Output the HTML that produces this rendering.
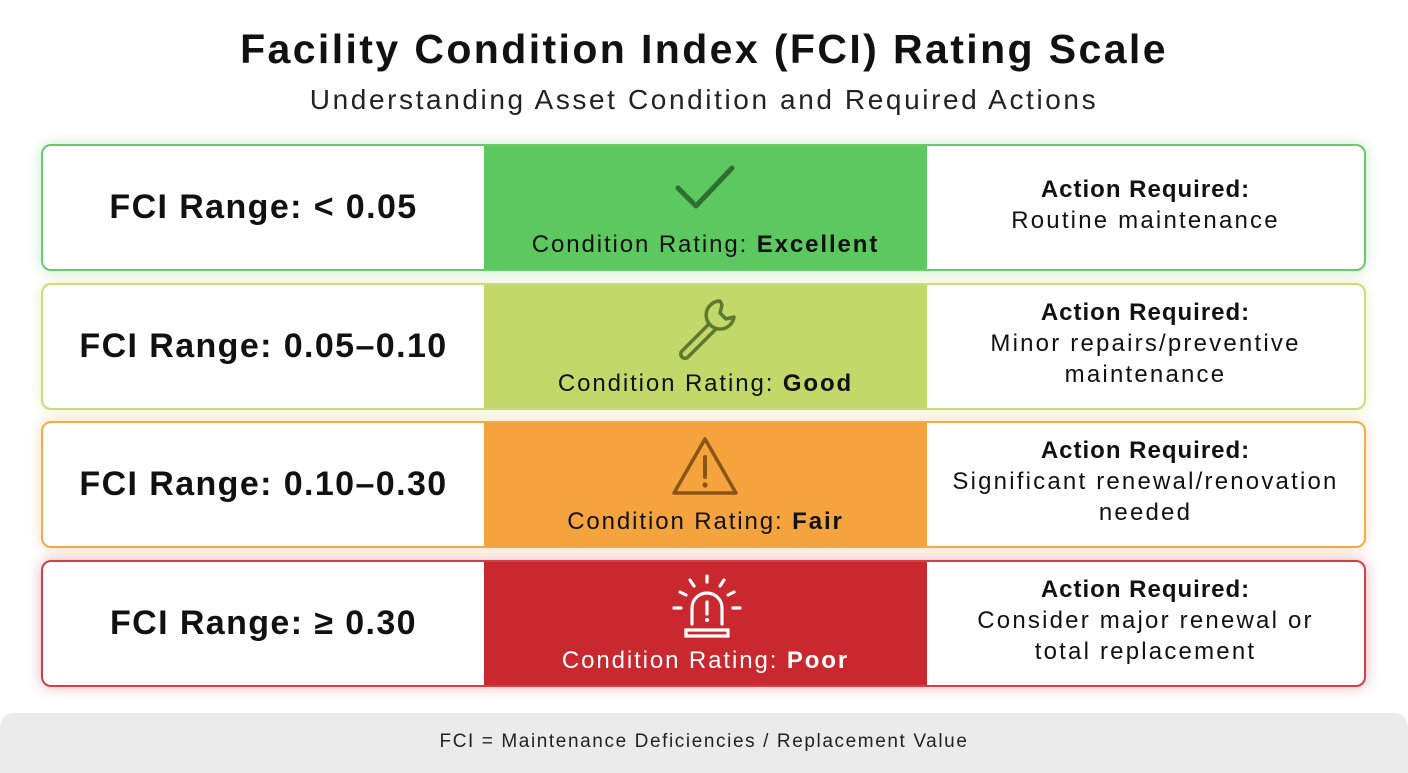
<!DOCTYPE html>
<html><head><meta charset="utf-8"><style>
*{margin:0;padding:0;box-sizing:border-box}
body{width:1408px;height:768px;background:#fff;font-family:"Liberation Sans",sans-serif;position:relative;overflow:hidden;color:#111}
h1{position:absolute;top:26px;left:0;width:1408px;text-align:center;font-size:41px;font-weight:bold;letter-spacing:2.4px}
.sub{position:absolute;top:84px;left:0;width:1408px;text-align:center;font-size:28px;color:#222;letter-spacing:2.6px}
.row{position:absolute;left:41px;width:1325px;height:127px;border:2px solid;border-radius:10px;overflow:hidden;background:#fff}
.l{position:absolute;left:0;top:0;width:441px;height:100%;display:flex;align-items:center;justify-content:center;font-size:34px;font-weight:bold;letter-spacing:1.4px}
.m{position:absolute;left:441px;top:0;width:443px;height:100%}
.m svg{position:absolute;left:186px;top:12px}
.m .t{position:absolute;left:0;width:100%;top:85px;text-align:center;font-size:24px;letter-spacing:1.9px}
.r{position:absolute;left:884px;top:0;right:0;height:100%;display:flex;flex-direction:column;justify-content:center;align-items:center;text-align:center;font-size:24px;line-height:31px;padding-bottom:6px;letter-spacing:2.2px}
.r b{display:block;letter-spacing:1px}
.foot{position:absolute;left:0;top:713px;width:1408px;height:60px;background:#ebebeb;border-radius:14px 14px 0 0;text-align:center;font-size:19px;padding-top:18px;color:#222;letter-spacing:1.6px}
</style></head><body>
<h1>Facility Condition Index (FCI) Rating Scale</h1>
<div class="sub">Understanding Asset Condition and Required Actions</div>

<div class="row" style="top:144px;border-color:#6cc86c;box-shadow:0 0 14px rgba(92,200,95,.35)">
<div class="l">FCI Range: &lt; 0.05</div>
<div class="m" style="background:#5cc85f"><svg width="70" height="60" viewBox="0 0 70 60"><path d="M8 30 L26 48 L62 10" fill="none" stroke="#2f6e31" stroke-width="5" stroke-linecap="round" stroke-linejoin="round"/></svg><div class="t">Condition Rating: <b>Excellent</b></div></div>
<div class="r"><b>Action Required:</b>Routine maintenance</div>
</div>

<div class="row" style="top:283px;border-color:#c8dc7a;box-shadow:0 0 14px rgba(194,217,106,.35)">
<div class="l">FCI Range: 0.05–0.10</div>
<div class="m" style="background:#c2d96a"><svg width="70" height="64" viewBox="0 0 70 64"><path d="M50 4 a14 14 0 1 0 14 16 l-8 2 -6-6 2-8z M40 26 L12 54 a4 4 0 0 0 6 6 L46 32" fill="none" stroke="#5d7a2c" stroke-width="3.5" stroke-linejoin="round"/></svg><div class="t">Condition Rating: <b>Good</b></div></div>
<div class="r"><b>Action Required:</b>Minor repairs/preventive<br>maintenance</div>
</div>

<div class="row" style="top:421px;border-color:#f5a94a;box-shadow:0 0 14px rgba(245,163,60,.35)">
<div class="l">FCI Range: 0.10–0.30</div>
<div class="m" style="background:#f5a33c"><svg width="70" height="64" viewBox="0 0 70 64"><path d="M35 4 L66 58 L4 58 Z" fill="none" stroke="#8a5418" stroke-width="3.5" stroke-linejoin="round"/><path d="M35 22 V42" stroke="#8a5418" stroke-width="4" stroke-linecap="round"/><circle cx="35" cy="50" r="2.6" fill="#8a5418"/></svg><div class="t">Condition Rating: <b>Fair</b></div></div>
<div class="r"><b>Action Required:</b>Significant renewal/renovation<br>needed</div>
</div>

<div class="row" style="top:560px;border-color:#d04048;box-shadow:0 0 14px rgba(200,40,46,.35)">
<div class="l">FCI Range: ≥ 0.30</div>
<div class="m" style="background:#c8282e"><svg width="74" height="66" viewBox="0 0 74 66"><g fill="none" stroke="#fff" stroke-width="3.2" stroke-linecap="round"><path d="M37 2 V8 M20 6 L24 12 M54 6 L50 12 M10 18 L16 21 M64 18 L58 21 M4 34 H11 M63 34 H70"/><path d="M22 50 V34 a15 15 0 0 1 30 0 V50"/><path d="M16 56 h42 v6 h-42z"/><path d="M37 28 V40"/></g><circle cx="37" cy="46" r="2" fill="#fff"/></svg><div class="t" style="color:#fff">Condition Rating: <b>Poor</b></div></div>
<div class="r"><b>Action Required:</b>Consider major renewal or<br>total replacement</div>
</div>

<div class="foot">FCI = Maintenance Deficiencies / Replacement Value</div>
</body></html>
